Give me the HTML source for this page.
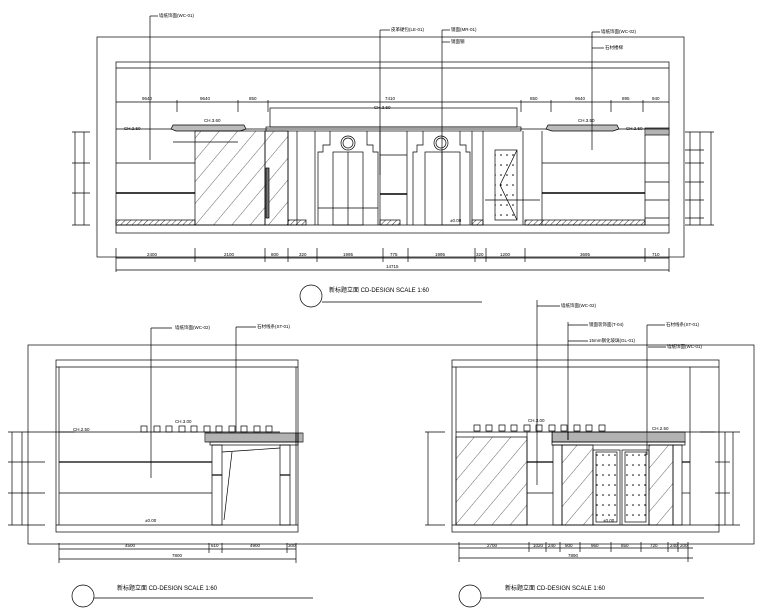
<!DOCTYPE html>
<html><head><meta charset="utf-8"><style>
html,body{margin:0;padding:0;background:#fff;}
svg{display:block;}
text{font-family:"Liberation Sans","Noto Sans CJK SC",sans-serif;font-size:4.5px;fill:#000;}
</style></head><body>
<svg width="780" height="610" viewBox="0 0 780 610" xmlns="http://www.w3.org/2000/svg">
<defs>
<pattern id="h" width="4" height="4" patternUnits="userSpaceOnUse" patternTransform="rotate(45)"><line x1="0" y1="0" x2="0" y2="4" stroke="#000" stroke-width="0.8"/></pattern>
<pattern id="g" width="14" height="14" patternUnits="userSpaceOnUse" patternTransform="rotate(40)"><line x1="0" y1="0" x2="0" y2="14" stroke="#000" stroke-width="0.6"/></pattern>
<pattern id="d" width="6" height="10" patternUnits="userSpaceOnUse"><circle cx="3" cy="5" r="0.8" fill="#000"/></pattern>
<pattern id="c" width="2" height="6" patternUnits="userSpaceOnUse"><line x1="1" y1="0" x2="1" y2="6" stroke="#000" stroke-width="0.6"/></pattern>
</defs>
<g fill="none" stroke="#000" stroke-width="0.7">
<!-- ===== TOP DRAWING ===== -->
<rect x="97" y="37" width="587" height="220"/>
<rect x="116" y="62" width="553" height="171"/>
<line x1="116" y1="68" x2="669" y2="68"/>
<line x1="116" y1="225" x2="669" y2="225"/>
<rect x="116" y="220" width="79" height="5" fill="url(#h)"/>
<rect x="288" y="220" width="18" height="5" fill="url(#h)"/>
<rect x="380" y="220" width="20" height="5" fill="url(#h)"/>
<rect x="472" y="220" width="11" height="5" fill="url(#h)"/>
<rect x="525" y="220" width="120" height="5" fill="url(#h)"/>
<!-- top dim -->
<line x1="116" y1="102" x2="669" y2="102"/>
<line x1="177" y1="100" x2="177" y2="112"/><line x1="238" y1="100" x2="238" y2="112"/><line x1="268" y1="100" x2="268" y2="112"/>
<line x1="521" y1="100" x2="521" y2="112"/><line x1="551" y1="100" x2="551" y2="112"/><line x1="611" y1="100" x2="611" y2="112"/><line x1="643" y1="100" x2="643" y2="112"/>
<!-- horizontal rails -->
<line x1="116" y1="129" x2="669" y2="129"/>
<line x1="116" y1="163" x2="195" y2="163"/>
<line x1="116" y1="193" x2="195" y2="193" stroke-width="1.4"/>
<line x1="542" y1="163" x2="645" y2="163"/>
<line x1="542" y1="193" x2="645" y2="193" stroke-width="1.4"/>
<!-- shelves -->
<path d="M171 129 L173 125 L244 125 L246 129 L240 131 L176 131 Z" fill="#bbb"/>
<path d="M546 129 L548 125 L617 125 L619 129 L613 131 L552 131 Z" fill="#bbb"/>
<line x1="173" y1="142" x2="238" y2="142"/>
<!-- glass -->
<rect x="195" y="131" width="70" height="94" fill="url(#g)"/>
<rect x="265" y="131" width="23" height="94" fill="url(#g)"/>
<rect x="266" y="168" width="3" height="50" fill="#777"/>
<!-- canopy -->
<rect x="270" y="108" width="247" height="19"/>
<rect x="266" y="127" width="255" height="4"/>
<!-- central columns -->
<line x1="288" y1="131" x2="288" y2="225"/><line x1="297" y1="131" x2="297" y2="225"/><line x1="315" y1="131" x2="315" y2="225"/>
<path d="M330 131 V145 H323 V152 H318 V225"/><path d="M367 131 V145 H373 V152 H378 V225"/>
<rect x="333" y="152" width="30" height="73"/><line x1="348" y1="152" x2="348" y2="225"/>
<circle cx="348" cy="143" r="7"/><circle cx="348" cy="143" r="5"/>
<line x1="380" y1="131" x2="380" y2="225"/><line x1="407" y1="131" x2="407" y2="225"/>
<line x1="380" y1="194" x2="407" y2="194" stroke-width="1.4"/>
<line x1="380" y1="155" x2="407" y2="155"/>
<path d="M423 131 V145 H417 V152 H413 V225"/><path d="M460 131 V145 H466 V152 H470 V225"/>
<rect x="425" y="152" width="35" height="73"/><line x1="442" y1="152" x2="442" y2="225"/>
<circle cx="441" cy="143" r="7"/><circle cx="441" cy="143" r="5"/>
<line x1="472" y1="131" x2="472" y2="225"/><line x1="483" y1="131" x2="483" y2="225"/>
<rect x="495" y="150" width="22" height="70" fill="url(#d)"/>
<path d="M517 150 L500 185 L517 220"/>
<line x1="523" y1="131" x2="523" y2="225"/><line x1="542" y1="131" x2="542" y2="225"/>
<line x1="318" y1="208" x2="378" y2="208"/><line x1="485" y1="200" x2="540" y2="200"/>
<!-- right column -->
<line x1="645" y1="135" x2="645" y2="225"/>
<line x1="645" y1="163" x2="669" y2="163"/><line x1="645" y1="182" x2="669" y2="182"/><line x1="645" y1="200" x2="669" y2="200"/><line x1="645" y1="218" x2="669" y2="218"/>
<rect x="645" y="128" width="24" height="7" fill="url(#c)"/>
<!-- right dims -->
<line x1="690" y1="132" x2="690" y2="225"/><line x1="700" y1="132" x2="700" y2="225"/><line x1="711" y1="132" x2="711" y2="225"/>
<line x1="685" y1="132" x2="714" y2="132"/><line x1="685" y1="150" x2="704" y2="150"/><line x1="685" y1="163" x2="704" y2="163"/><line x1="685" y1="182" x2="704" y2="182"/><line x1="685" y1="200" x2="704" y2="200"/><line x1="685" y1="218" x2="704" y2="218"/><line x1="685" y1="225" x2="714" y2="225"/>
<!-- left dims top -->
<line x1="75" y1="132" x2="75" y2="225"/><line x1="84" y1="132" x2="84" y2="225"/>
<line x1="72" y1="132" x2="90" y2="132"/><line x1="72" y1="163" x2="90" y2="163"/><line x1="72" y1="193" x2="90" y2="193"/><line x1="72" y1="225" x2="90" y2="225"/>
<!-- bottom dims -->
<line x1="116" y1="258" x2="669" y2="258"/>
<line x1="116" y1="248" x2="116" y2="272"/><line x1="195" y1="248" x2="195" y2="262"/><line x1="265" y1="248" x2="265" y2="262"/><line x1="288" y1="248" x2="288" y2="262"/><line x1="317" y1="248" x2="317" y2="262"/><line x1="383" y1="248" x2="383" y2="262"/><line x1="408" y1="248" x2="408" y2="262"/><line x1="475" y1="248" x2="475" y2="262"/><line x1="486" y1="248" x2="486" y2="262"/><line x1="525" y1="248" x2="525" y2="262"/><line x1="645" y1="248" x2="645" y2="262"/><line x1="669" y1="248" x2="669" y2="272"/>
<line x1="116" y1="270" x2="669" y2="270"/>
<!-- leaders top -->
<line x1="150" y1="16" x2="150" y2="160"/><line x1="150" y1="16" x2="158" y2="16"/>
<line x1="380" y1="30" x2="380" y2="175"/><line x1="380" y1="30" x2="390" y2="30"/>
<line x1="442" y1="30" x2="442" y2="200"/><line x1="442" y1="30" x2="450" y2="30"/><line x1="442" y1="42" x2="450" y2="42"/>
<line x1="592" y1="32" x2="592" y2="150"/><line x1="592" y1="32" x2="600" y2="32"/><line x1="592" y1="48" x2="604" y2="48"/>
<!-- title top -->
<circle cx="311" cy="296" r="11"/><line x1="322" y1="302" x2="482" y2="302"/>

<!-- ===== BOTTOM FRAME ===== -->
<rect x="28" y="345" width="726" height="199"/>
<!-- left drawing -->
<rect x="56" y="360" width="242" height="172"/>
<line x1="56" y1="367" x2="298" y2="367"/><line x1="56" y1="525" x2="298" y2="525"/>
<line x1="59" y1="367" x2="59" y2="525"/><line x1="296" y1="367" x2="296" y2="525"/>
<line x1="59" y1="462" x2="212" y2="462" stroke-width="1.2"/><line x1="59" y1="493" x2="212" y2="493"/>
<line x1="59" y1="432" x2="280" y2="432"/>
<rect x="205" y="433" width="98" height="9" fill="url(#c)"/>
<rect x="210" y="442" width="88" height="3"/>
<rect x="212" y="445" width="10" height="80"/><rect x="280" y="445" width="10" height="80"/>
<line x1="222" y1="452" x2="280" y2="448"/><line x1="232" y1="452" x2="224" y2="520"/>
<line x1="212" y1="475" x2="222" y2="475" stroke-width="1.2"/><line x1="280" y1="475" x2="290" y2="475" stroke-width="1.2"/>
<g><rect x="141" y="426" width="6" height="6"/><rect x="154" y="426" width="6" height="6"/><rect x="166" y="426" width="6" height="6"/><rect x="179" y="426" width="6" height="6"/><rect x="191" y="426" width="6" height="6"/><rect x="204" y="426" width="6" height="6"/><rect x="216" y="426" width="6" height="6"/><rect x="229" y="426" width="6" height="6"/><rect x="241" y="426" width="6" height="6"/><rect x="254" y="426" width="6" height="6"/><rect x="266" y="426" width="6" height="6"/></g>
<line x1="12" y1="432" x2="12" y2="525"/><line x1="22" y1="432" x2="22" y2="525"/>
<line x1="8" y1="432" x2="75" y2="432"/><line x1="8" y1="462" x2="45" y2="462"/><line x1="8" y1="493" x2="45" y2="493"/><line x1="8" y1="525" x2="45" y2="525"/>
<line x1="59" y1="549" x2="296" y2="549"/><line x1="59" y1="559" x2="296" y2="559"/>
<line x1="59" y1="543" x2="59" y2="563"/><line x1="209" y1="543" x2="209" y2="553"/><line x1="222" y1="543" x2="222" y2="553"/><line x1="287" y1="543" x2="287" y2="553"/><line x1="296" y1="543" x2="296" y2="563"/>
<line x1="151" y1="328" x2="151" y2="478"/><line x1="151" y1="328" x2="172" y2="328"/>
<line x1="236" y1="327" x2="236" y2="432"/><line x1="236" y1="327" x2="256" y2="327"/>
<circle cx="83" cy="596" r="11"/><line x1="94" y1="598" x2="313" y2="598"/>

<!-- right drawing -->
<rect x="452" y="360" width="267" height="172"/>
<line x1="452" y1="367" x2="719" y2="367"/><line x1="452" y1="525" x2="719" y2="525"/>
<line x1="456" y1="367" x2="456" y2="525"/><line x1="690" y1="367" x2="690" y2="525"/>
<line x1="456" y1="432" x2="715" y2="432"/>
<rect x="456" y="437" width="71" height="88" fill="url(#g)"/>
<line x1="527" y1="432" x2="527" y2="525"/>
<line x1="527" y1="462" x2="553" y2="462" stroke-width="1.2"/><line x1="527" y1="493" x2="553" y2="493"/>
<rect x="552" y="432" width="133" height="10" fill="url(#c)"/>
<rect x="552" y="442" width="133" height="3"/>
<rect x="553" y="445" width="9" height="80"/><rect x="673" y="445" width="9" height="80"/>
<rect x="562" y="445" width="31" height="80" fill="url(#g)"/>
<rect x="649" y="445" width="24" height="80" fill="url(#g)"/>
<rect x="593" y="450" width="27" height="75"/><rect x="596" y="452" width="21" height="70" fill="url(#d)"/>
<rect x="622" y="450" width="27" height="75"/><rect x="625" y="452" width="21" height="70" fill="url(#d)"/>
<line x1="682" y1="462" x2="690" y2="462" stroke-width="1.2"/><line x1="682" y1="493" x2="690" y2="493"/>
<g><rect x="474" y="425" width="6" height="6"/><rect x="486" y="425" width="6" height="6"/><rect x="499" y="425" width="6" height="6"/><rect x="511" y="425" width="6" height="6"/><rect x="524" y="425" width="6" height="6"/><rect x="536" y="425" width="6" height="6"/><rect x="549" y="425" width="6" height="6"/><rect x="561" y="425" width="6" height="6"/><rect x="574" y="425" width="6" height="6"/><rect x="586" y="425" width="6" height="6"/><rect x="599" y="425" width="6" height="6"/></g>
<line x1="725" y1="432" x2="725" y2="525"/><line x1="733" y1="432" x2="733" y2="525"/>
<line x1="700" y1="432" x2="740" y2="432"/><line x1="715" y1="462" x2="730" y2="462"/><line x1="715" y1="493" x2="730" y2="493"/><line x1="715" y1="525" x2="740" y2="525"/>
<line x1="425" y1="432" x2="445" y2="432"/><line x1="428" y1="432" x2="428" y2="525"/><line x1="425" y1="525" x2="445" y2="525"/>
<line x1="459" y1="548" x2="693" y2="548"/><line x1="459" y1="558" x2="693" y2="558"/>
<line x1="459" y1="542" x2="459" y2="562"/><line x1="529" y1="542" x2="529" y2="552"/><line x1="546" y1="542" x2="546" y2="552"/><line x1="560" y1="542" x2="560" y2="552"/><line x1="580" y1="542" x2="580" y2="552"/><line x1="611" y1="542" x2="611" y2="552"/><line x1="641" y1="542" x2="641" y2="552"/><line x1="668" y1="542" x2="668" y2="552"/><line x1="678" y1="542" x2="678" y2="552"/><line x1="688" y1="542" x2="688" y2="562"/>
<line x1="537" y1="300" x2="537" y2="485"/><line x1="537" y1="306" x2="560" y2="306"/>
<line x1="568" y1="322" x2="568" y2="440"/><line x1="568" y1="325" x2="588" y2="325"/><line x1="568" y1="341" x2="588" y2="341"/>
<line x1="647" y1="325" x2="647" y2="455"/><line x1="647" y1="325" x2="665" y2="325"/>
<line x1="648" y1="347" x2="666" y2="347"/>
<circle cx="470" cy="596" r="11"/><line x1="481" y1="598" x2="704" y2="598"/>
</g>
<!-- labels -->
<text x="159" y="17">墙纸饰面(WC-01)</text>
<text x="391" y="31">皮革硬包(LE-01)</text>
<text x="451" y="31">镜面(MR-01)</text>
<text x="451" y="43">镜面钢</text>
<text x="601" y="33">墙纸饰面(WC-02)</text>
<text x="605" y="49">石材楼梯</text>
<text x="142" y="100">9640</text><text x="200" y="100">9640</text><text x="249" y="100">850</text><text x="385" y="100">7410</text><text x="530" y="100">850</text><text x="575" y="100">9640</text><text x="622" y="100">895</text><text x="652" y="100">940</text>
<text x="374" y="109">CH.3.50</text>
<text x="124" y="130">CH.2.50</text><text x="204" y="122">CH.3.60</text><text x="578" y="122">CH.3.50</text><text x="626" y="130">CH.2.50</text>
<text x="450" y="222">±0.00</text>
<text x="147" y="256">2400</text><text x="224" y="256">2100</text><text x="271" y="256">800</text><text x="299" y="256">320</text><text x="343" y="256">1995</text><text x="390" y="256">775</text><text x="435" y="256">1995</text><text x="476" y="256">320</text><text x="500" y="256">1200</text><text x="580" y="256">3695</text><text x="652" y="256">710</text>
<text x="386" y="268">14715</text>
<text x="329" y="292" style="font-size:6px">新标题立面  CD-DESIGN     SCALE  1:60</text>
<text x="175" y="329">墙纸饰面(WC-02)</text>
<text x="257" y="328">石材线条(ST-01)</text>
<text x="73" y="431">CH.2.50</text><text x="175" y="423">CH.3.00</text><text x="145" y="522">±0.00</text>
<text x="125" y="547">4500</text><text x="211" y="547">610</text><text x="250" y="547">4900</text><text x="288" y="547">300</text>
<text x="172" y="557">7800</text>
<text x="117" y="590" style="font-size:6px">新标题立面  CD-DESIGN     SCALE  1:60</text>
<text x="561" y="307">墙纸饰面(WC-02)</text>
<text x="589" y="326">镜面装饰面(T-04)</text>
<text x="589" y="342">15mm钢化玻璃(GL-01)</text>
<text x="666" y="326">石材线条(ST-01)</text>
<text x="667" y="348">墙纸饰面(WC-01)</text>
<text x="528" y="422">CH.3.00</text><text x="652" y="430">CH.2.50</text><text x="603" y="522">±0.00</text>
<text x="487" y="547">2700</text><text x="533" y="547">1020</text><text x="548" y="547">240</text><text x="565" y="547">900</text><text x="591" y="547">960</text><text x="621" y="547">850</text><text x="650" y="547">720</text><text x="670" y="547">240</text><text x="680" y="547">200</text>
<text x="568" y="557">7890</text>
<text x="505" y="590" style="font-size:6px">新标题立面  CD-DESIGN     SCALE  1:60</text>
</svg>
</body></html>
